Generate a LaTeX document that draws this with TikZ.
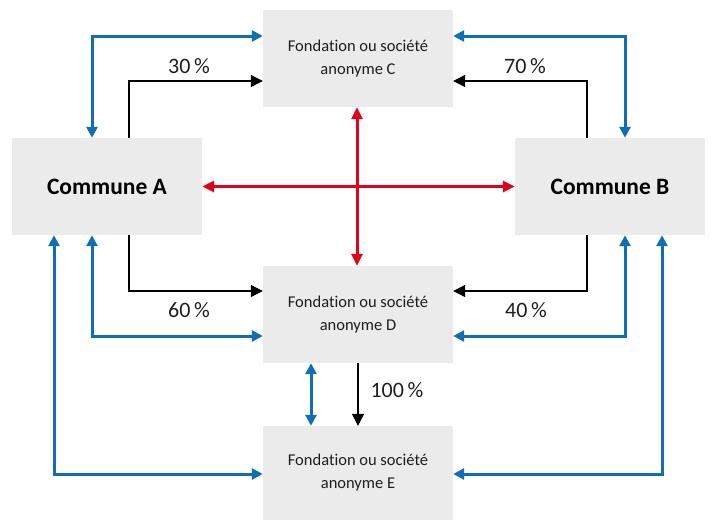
\documentclass[tikz,border=0pt]{standalone}
\usepackage{fontspec}
\setmainfont[Ligatures={NoCommon,NoRare,NoContextual}]{Carlito}
\usetikzlibrary{arrows.meta}
\definecolor{boxgray}{RGB}{234,235,234}
\definecolor{linkblue}{RGB}{16,110,180}
\definecolor{linkred}{RGB}{226,0,26}
\definecolor{txt}{RGB}{30,30,30}
\tikzset{
  entity/.style={fill=boxgray, draw=none, minimum width=190pt, minimum height=97pt, inner sep=0pt, align=center, text=txt, font=\fontsize{16.5}{23}\selectfont},
  commune/.style={entity, font=\bfseries\fontsize{23.5}{28}\selectfont, text=black},
  bluelink/.style={draw=linkblue, line width=3pt, {Triangle[length=11pt,width=11pt]}-{Triangle[length=11pt,width=11pt]}},
  redlink/.style={draw=linkred, line width=3pt, {Triangle[length=12pt,width=11pt]}-{Triangle[length=12pt,width=11pt]}},
  own/.style={draw=black, line width=1.1pt, -{Triangle[length=12pt,width=12pt]}},
  pct/.style={font=\fontsize{22}{24}\selectfont, text=txt, inner sep=0pt}
}
\begin{document}
\begin{tikzpicture}[x=1pt,y=-1pt]
\useasboundingbox (0,0) rectangle (715,520);
\node[entity] (C) at (358,58.5) {Fondation ou société\\anonyme C};
\node[commune] (A) at (107,186.5) {Commune A};
\node[commune] (B) at (610,186.5) {Commune B};
\node[entity] (D) at (358,314.5) {Fondation ou société\\anonyme D};
\node[entity, minimum height=94pt] (E) at (358,473) {Fondation ou société\\anonyme E};

% ownership (black)
\draw[own] ([xshift=22pt]A.north) |- ([yshift=-22.5pt]C.west);
\draw[own] ([xshift=-23pt]B.north) |- ([yshift=-22.5pt]C.east);
\draw[own] ([xshift=22pt]A.south) |- ([yshift=23.5pt]D.west);
\draw[own] ([xshift=-23pt]B.south) |- ([yshift=23.5pt]D.east);
\draw[own] (D.south) -- (E.north);

% blue links
\draw[bluelink] ([xshift=-15pt]A.north) |- ([yshift=22.5pt]C.west);
\draw[bluelink] ([xshift=15pt]B.north) |- ([yshift=22.5pt]C.east);
\draw[bluelink] ([xshift=-15pt]A.south) |- ([yshift=-21.5pt]D.west);
\draw[bluelink] ([xshift=15pt]B.south) |- ([yshift=-21.5pt]D.east);
\draw[bluelink] ([xshift=-53pt]A.south) |- ([yshift=-1pt]E.west);
\draw[bluelink] ([xshift=52pt]B.south) |- ([yshift=-1pt]E.east);
\draw[bluelink] ([xshift=-47pt]D.south) -- ([xshift=-47pt]E.north);

% red links
\draw[redlink] ([xshift=-1pt]C.south) -- ([xshift=-1pt]D.north);
\draw[redlink] (A.east) -- (B.west);

% labels
\node[pct] (p30) at (189,66) {30\,\%};
\node[pct] (p70) at (525,66) {70\,\%};
\node[pct] (p60) at (189,310) {60\,\%};
\node[pct] (p40) at (526,310) {40\,\%};
\node[pct] (p100) at (397,390) {100\,\%};
\end{tikzpicture}
\end{document}
